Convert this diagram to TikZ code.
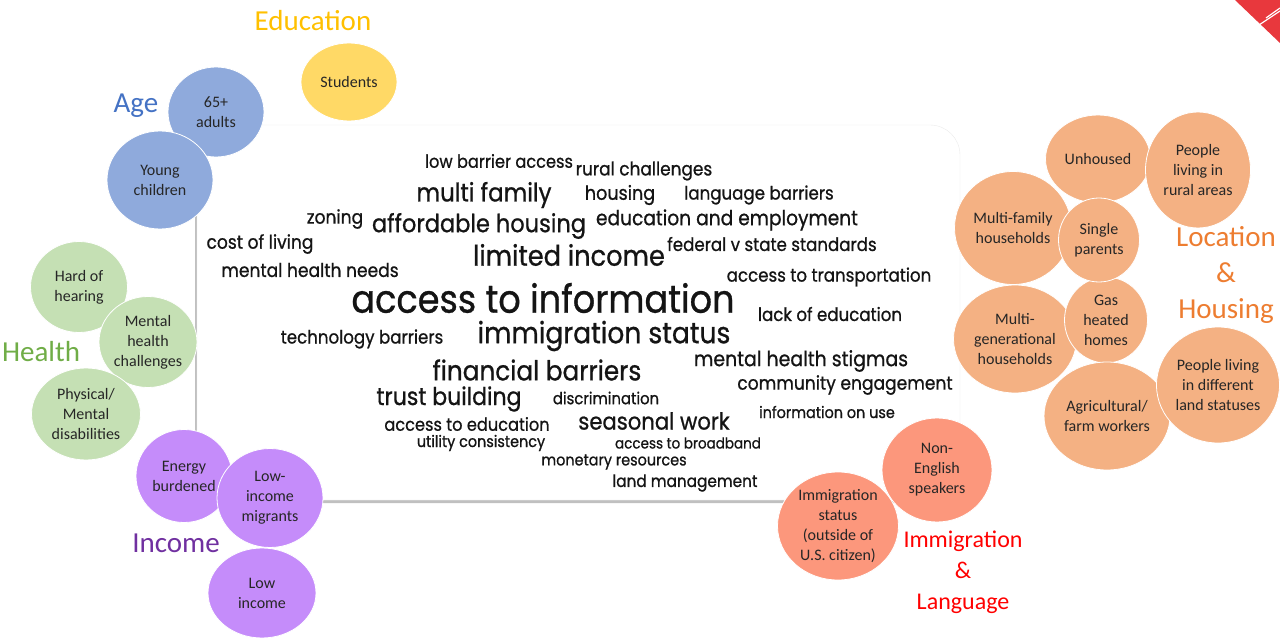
\documentclass[tikz,border=0pt]{standalone}
\usepackage{fontspec}
\setmainfont{Carlito}
\newfontfamily\cloudfont[FakeStretch=0.9, FakeBold=0.8]{Poppins}
\usetikzlibrary{shapes.geometric, shadows}

\definecolor{agefill}{HTML}{8FAADC}
\definecolor{agetext}{HTML}{4472C4}
\definecolor{edufill}{HTML}{FFD966}
\definecolor{edutext}{HTML}{FFC000}
\definecolor{healthfill}{HTML}{C5E0B4}
\definecolor{healthtext}{HTML}{70AD47}
\definecolor{incomefill}{HTML}{C58CFA}
\definecolor{incometext}{HTML}{7030A0}
\definecolor{immfill}{HTML}{FC977C}
\definecolor{immtext}{HTML}{FF0000}
\definecolor{locfill}{HTML}{F4B183}
\definecolor{loctext}{HTML}{ED7D31}
\definecolor{cornerred}{HTML}{E8383D}

\tikzset{
  font={\fontsize{16pt}{20pt}\selectfont}}
\tikzset{
  bubble/.style={ellipse, draw=white, line width=0.8pt, text=black!85,
    align=center, inner sep=0pt},
  grouplabel/.style={font={\fontsize{29pt}{36pt}\selectfont}, align=center},
  word/.style={font={\cloudfont\fontsize{#1pt}{#1pt}\selectfont},
    text=black!92, inner sep=0pt}
}

\begin{document}
\begin{tikzpicture}[x=1pt, y=-1pt]
  \useasboundingbox (0,0) rectangle (1280,639);

  % corner mark
  \fill[cornerred] (1235,0) -- (1280,0) -- (1280,43) -- cycle;
  \draw[white, line width=1.2pt] (1259,25) -- (1280,11);
  \draw[white, line width=1.2pt] (1266,18) -- (1280,8);

  % word cloud panel
  \draw[black!8, fill=white, rounded corners=30pt,
        drop shadow={shadow xshift=-2pt, shadow yshift=-3pt, opacity=0.45, fill=black!55}]
        (197,125) rectangle (960,500);

  \node[word=18]   (lowbarrier)  at (499,161) {low barrier access};
  \node[word=18.8] (rural)       at (644,171) {rural challenges};
  \node[word=25.5] (multifam)    at (484,195) {multi family};
  \node[word=19.5] (housing)     at (620,195) {housing};
  \node[word=18.5] (language)    at (759,195) {language barriers};
  \node[word=19]   (zoning)      at (335,219) {zoning};
  \node[word=25]   (affordable)  at (479,226) {affordable housing};
  \node[word=20.7] (eduemp)      at (727,220) {education and employment};
  \node[word=19]   (costliving)  at (260,244) {cost of living};
  \node[word=28.5] (limited)     at (569,255) {limited income};
  \node[word=18.5] (federal)     at (772,244) {federal v state standards};
  \node[word=19]   (mhneeds)     at (310,270) {mental health needs};
  \node[word=18.5] (transport)   at (829,277) {access to transportation};
  \node[word=39]   (info)        at (543,298) {access to information};
  \node[word=18.5] (lackedu)     at (830,314) {lack of education};
  \node[word=18.5] (techbar)     at (362,339) {technology barriers};
  \node[word=29.5] (immstatus)   at (604,336) {immigration status};
  \node[word=27.5] (financial)   at (537,370) {financial barriers};
  \node[word=21]   (mhstigma)    at (801,361) {mental health stigmas};
  \node[word=19]   (community)   at (845,385) {community engagement};
  \node[word=24.5] (trust)       at (449,399) {trust building};
  \node[word=16.5] (discrim)     at (606,398) {discrimination};
  \node[word=16]   (infouse)     at (827,412) {information on use};
  \node[word=18]   (accessedu)   at (467,424) {access to education};
  \node[word=23.5] (seasonal)    at (654,421) {seasonal work};
  \node[word=16]   (utility)     at (481,443) {utility consistency};
  \node[word=15]   (broadband)   at (688,443) {access to broadband};
  \node[word=16]   (monetary)    at (614,462) {monetary resources};
  \node[word=17]   (landmgmt)    at (685,483) {land management};

  % Education
  \node[grouplabel, text=edutext] (education) at (313,21) {Education};
  \node[bubble, fill=edufill, minimum width=96pt, minimum height=78pt] (students) at (349,82) {Students};

  % Age
  \node[grouplabel, text=agetext] (age) at (136,106) {Age};
  \node[bubble, fill=agefill, minimum width=96pt, minimum height=90pt] (adults) at (216,112) {65+\\adults};
  \node[bubble, fill=agefill, minimum width=106pt, minimum height=98pt] (young) at (160,180) {Young\\children};

  % Health
  \node[grouplabel, text=healthtext] (health) at (41,352) {Health};
  \node[bubble, fill=healthfill, minimum width=97pt, minimum height=91pt] (hearing) at (79,287) {Hard of\\hearing};
  \node[bubble, fill=healthfill, minimum width=98pt, minimum height=91pt] (mental) at (148,342) {Mental\\health\\challenges};
  \node[bubble, fill=healthfill, minimum width=109pt, minimum height=92pt] (disab) at (86,414) {Physical/\\Mental\\disabilities};

  % Income
  \node[grouplabel, text=incometext] (income) at (176,543) {Income};
  \node[bubble, fill=incomefill, minimum width=96pt, minimum height=93pt] (energy) at (184,476) {Energy\\burdened};
  \node[bubble, fill=incomefill, minimum width=106pt, minimum height=99pt] (migrants) at (270,498) {Low-\\income\\migrants};
  \node[bubble, fill=incomefill, minimum width=108pt, minimum height=90pt] (lowinc) at (262,593) {Low\\income};

  % Immigration & Language
  \node[grouplabel, text=immtext, font={\fontsize{24pt}{31pt}\selectfont}] (immlang) at (963,572) {Immigration\\\&\\Language};
  \node[bubble, fill=immfill, minimum width=110pt, minimum height=104pt] (nonenglish) at (937,470) {Non-\\English\\speakers};
  \node[bubble, fill=immfill, minimum width=121pt, minimum height=108pt] (immig) at (838,526) {Immigration\\status\\(outside of\\U.S. citizen)};

  % Location & Housing
  \node[grouplabel, text=loctext] (lochousing) at (1226,275) {Location\\\&\\Housing};
  \node[bubble, fill=locfill, minimum width=105pt, minimum height=88pt] (unhoused) at (1098,159) {Unhoused};
  \node[bubble, fill=locfill, minimum width=105pt, minimum height=116pt] (ruralpeople) at (1198,170) {People\\living in\\rural areas};
  \node[bubble, fill=locfill, minimum width=117pt, minimum height=113pt] (multifamhh) at (1013,228) {Multi-family\\households};
  \node[bubble, fill=locfill, minimum width=123pt, minimum height=108pt] (multigen) at (1015,339) {Multi-\\generational\\households};
  \node[bubble, fill=locfill, minimum width=83pt, minimum height=86pt] (gas) at (1106,320) {Gas\\heated\\homes};
  \node[bubble, fill=locfill, minimum width=81pt, minimum height=84pt] (single) at (1099,240) {Single\\parents};
  \node[bubble, fill=locfill, minimum width=126pt, minimum height=108pt] (farm) at (1107,416) {Agricultural/\\farm workers};
  \node[bubble, fill=locfill, minimum width=123pt, minimum height=116pt] (landstatus) at (1218,385) {People living\\in different\\land statuses};
\end{tikzpicture}
\end{document}
